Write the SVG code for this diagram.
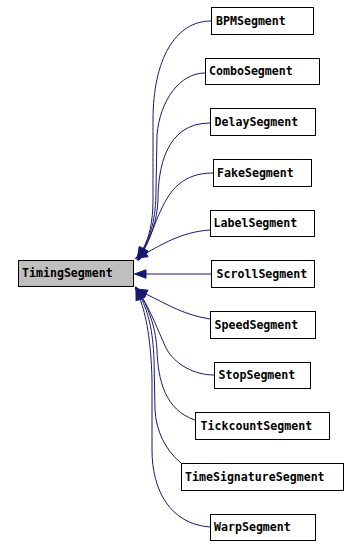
<svg xmlns="http://www.w3.org/2000/svg" width="361" height="547" viewBox="0 0 361 547">
  <style>
    .node rect { fill: #ffffff; stroke: #000000; stroke-width: 1; }
    .node.base rect { fill: #bfbfbf; }
    .node text { font-family: "DejaVu Sans Mono", "Liberation Mono", monospace; font-weight: bold; font-size: 11.6px; fill: #000000; }
    .edges path { fill: none; stroke: #191970; stroke-width: 1; marker-start: url(#inherit); }
  </style>
  <defs>
    <!-- filled inheritance arrowhead, drawn outward from the path start -->
    <marker id="inherit" markerUnits="userSpaceOnUse" markerWidth="16" markerHeight="14" refX="0" refY="6" orient="auto-start-reverse" overflow="visible">
      <path d="M0,1.8 L11.5,6 L0,10.2 z" fill="#191970" stroke="#191970" stroke-width="1"/>
    </marker>
  </defs>
  <rect width="361" height="547" fill="#ffffff"/>

  <g class="edges">
    <path d="M143,249 C149,238 153,222 153,200 C153,160 153,140 153,120 C153,60 175,21 211,21"/>
    <path d="M143,249 C150,237 156,220 156,190 L157,135 C160,100 180,73 205,73"/>
    <path d="M144,249 C150,238 157,222 158,200 C158,170 165,123 210,123"/>
    <path d="M144,250 C150,239 155,222 161,210 C170,190 183,173 213,173"/>
    <path d="M146,253 C160,246 180,232 210,230"/>
    <path d="M146,274 L211,274"/>
    <path d="M146,294 C170,306 185,315 210,319"/>
    <path d="M142,297 C150,310 158,330 166,348 C175,365 195,375 214,375"/>
    <path d="M142,298 C150,312 156,330 157,350 C158,380 165,410 195,420"/>
    <path d="M141,298 C148,312 153,330 154,360 L155,410 C156,430 165,450 181,463"/>
    <path d="M140,299 C146,315 151,340 152,380 L152,450 C152,490 170,524 210,527"/>
  </g>

  <g id="TimingSegment" class="node base">
    <rect x="18.5" y="260.5" width="115" height="26"/>
    <text x="22" y="277">TimingSegment</text>
  </g>
  <g id="BPMSegment" class="node">
    <rect x="211.5" y="7.5" width="102" height="27"/>
    <text x="216" y="24.5">BPMSegment</text>
  </g>
  <g id="ComboSegment" class="node">
    <rect x="205.5" y="58.5" width="114" height="26"/>
    <text x="209" y="75">ComboSegment</text>
  </g>
  <g id="DelaySegment" class="node">
    <rect x="210.5" y="108.5" width="105" height="27"/>
    <text x="214.5" y="125.5">DelaySegment</text>
  </g>
  <g id="FakeSegment" class="node">
    <rect x="213.5" y="159.5" width="98" height="27"/>
    <text x="217" y="176.5">FakeSegment</text>
  </g>
  <g id="LabelSegment" class="node">
    <rect x="210.5" y="210.5" width="104" height="26"/>
    <text x="213.5" y="227">LabelSegment</text>
  </g>
  <g id="ScrollSegment" class="node">
    <rect x="211.5" y="260.5" width="103" height="27"/>
    <text x="216.5" y="277.5">ScrollSegment</text>
  </g>
  <g id="SpeedSegment" class="node">
    <rect x="210.5" y="311.5" width="105" height="27"/>
    <text x="214.5" y="328.5">SpeedSegment</text>
  </g>
  <g id="StopSegment" class="node">
    <rect x="214.5" y="362.5" width="96" height="26"/>
    <text x="218.5" y="379">StopSegment</text>
  </g>
  <g id="TickcountSegment" class="node">
    <rect x="195.5" y="412.5" width="134" height="27"/>
    <text x="200.5" y="429.5">TickcountSegment</text>
  </g>
  <g id="TimeSignatureSegment" class="node">
    <rect x="181.5" y="463.5" width="162" height="27"/>
    <text x="185" y="480.5">TimeSignatureSegment</text>
  </g>
  <g id="WarpSegment" class="node">
    <rect x="210.5" y="514.5" width="105" height="26"/>
    <text x="214" y="531">WarpSegment</text>
  </g>
</svg>
